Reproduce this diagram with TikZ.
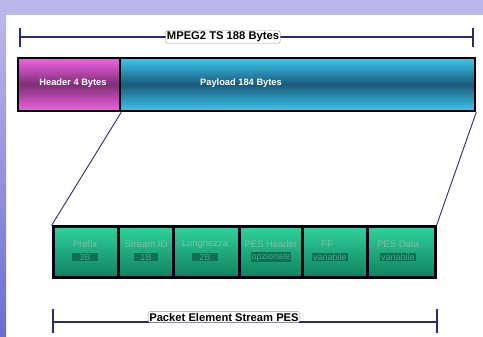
\documentclass[tikz,border=0pt]{standalone}
\usepackage{fontspec}
\setmainfont{Liberation Sans}
\definecolor{lav}{HTML}{B8B8EA}
\definecolor{lavdark}{HTML}{6C6CD0}
\definecolor{navy}{HTML}{2A2A78}
\definecolor{pinkA}{HTML}{F264E4}
\definecolor{pinkM}{HTML}{7E2E76}
\definecolor{cyanA}{HTML}{3CC8F0}
\definecolor{cyanM}{HTML}{1A5A7A}
\definecolor{greenA}{HTML}{30D29C}
\definecolor{greenB}{HTML}{0E805E}
\definecolor{greentext}{HTML}{7EC2A6}
\definecolor{greenbar}{HTML}{0E7052}
\definecolor{greenval}{HTML}{4AA888}
\tikzset{
  dimline/.style={draw=navy, line width=1.1pt},
  dimlabel/.style={draw=gray!80, fill=white, rounded corners=1.5pt, inner sep=1.2pt,
    font=\bfseries\fontsize{11.2}{12}\selectfont, text=black},
  barbox/.style={draw=black, line width=2.5pt, minimum height=53pt},
  bartext/.style={text=white, font=\bfseries\fontsize{9.3}{11}\selectfont},
  pesbox/.style={draw=black!92!blue, line width=3pt, minimum height=51pt,
    top color=greenA, bottom color=greenB},
  peslabel/.style={text=greentext, font=\fontsize{9.5}{10}\selectfont, inner sep=0pt},
  pesval/.style={fill=greenbar, text=greenval, font=\fontsize{9}{9}\selectfont,
    inner sep=1pt, minimum height=8.5pt},
  link/.style={draw=navy, line width=0.9pt},
}
\begin{document}
\begin{tikzpicture}[x=1pt,y=-1pt]
\useasboundingbox (0,0) rectangle (483,337);
% background
\fill[white] (0,0) rectangle (483,337);
\fill[lav] (0,0) rectangle (483,15);
\shade[top color=lav, bottom color=lavdark] (0,15) rectangle (6,337);
% top dimension
\coordinate (tl) at (20,37);
\coordinate (tr) at (473,37);
\draw[dimline] (tl) -- (tr);
\draw[dimline] (20,28) -- (20,47);
\draw[dimline] (473,28) -- (473,47);
\node[dimlabel] (mpeg) at (223,37) {MPEG2 TS 188 Bytes};
% main bar
\node[barbox, minimum width=102pt, top color=pinkA, bottom color=pinkA, middle color=pinkM] (header) at (69,84.5) {};
\node[barbox, minimum width=355pt, top color=cyanA, bottom color=cyanA, middle color=cyanM] (payload) at (297.5,84.5) {};
\node[bartext] (htext) at (73,83) {Header 4 Bytes};
\node[bartext] (ptext) at (241,83) {Payload 184 Bytes};
% PES boxes
\node[pesbox, minimum width=65pt] (b1) at (85.5,252.5) {};
\node[pesbox, minimum width=55pt] (b2) at (145.5,252.5) {};
\node[pesbox, minimum width=66pt] (b3) at (206,252.5) {};
\node[pesbox, minimum width=63pt] (b4) at (270.5,252.5) {};
\node[pesbox, minimum width=65pt] (b5) at (334.5,252.5) {};
\node[pesbox, minimum width=68pt] (b6) at (401,252.5) {};
% links
\draw[link] (header.south east) -- (b1.north west);
\draw[link] (payload.south east) -- (b6.north east);
% labels
\node[peslabel] (l1) at (85,244) {Prefix};
\node[pesval, minimum width=26pt] (v1) at (85,257) {3B};
\node[peslabel] (l2) at (146,244) {Stream ID};
\node[pesval, minimum width=24pt] (v2) at (146,257) {1B};
\node[peslabel] (l3) at (205,244) {Lunghezza};
\node[pesval, minimum width=26pt] (v3) at (205,257) {2B};
\node[peslabel] (l4) at (271,244) {PES Header};
\node[pesval] (v4) at (271,257) {opzionale};
\node[peslabel] (l5) at (327,244) {FF};
\node[pesval] (v5) at (330,257) {variabile};
\node[peslabel] (l6) at (398,244) {PES Data};
\node[pesval] (v6) at (398,257) {variabile};
% bottom dimension
\coordinate (bl) at (53,322);
\coordinate (br) at (437,322);
\draw[dimline] (bl) -- (br);
\draw[dimline] (53,309) -- (53,333);
\draw[dimline] (437,309) -- (437,333);
\node[dimlabel] (pes) at (224,317) {Packet Element Stream PES};
\end{tikzpicture}
\end{document}
